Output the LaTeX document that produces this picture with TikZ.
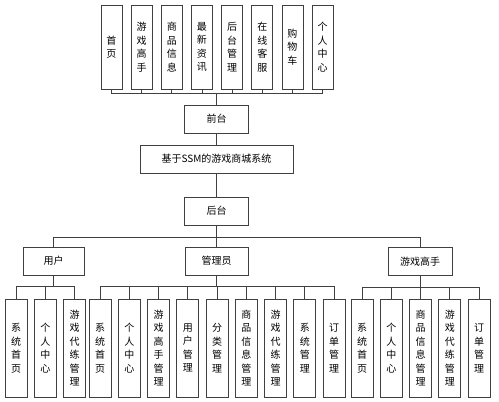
\documentclass[tikz,border=0pt]{standalone}
\usepackage{fontspec}
\newfontfamily\cjk{Noto Sans CJK SC}
\usepackage{tikz}
\usetikzlibrary{positioning}

\tikzset{
  box/.style={draw=black!75, line width=0.8pt, fill=white, inner sep=1pt,
    font=\cjk\fontsize{10}{13.5}\selectfont, align=center},
  topbox/.style={box, minimum width=21pt, minimum height=84pt},
  midbox/.style={box, minimum width=64pt, minimum height=28pt},
  leafbox/.style={box, minimum width=22pt, minimum height=98pt},
  wire/.style={draw=black!75, line width=0.8pt}
}

\begin{document}
\begin{tikzpicture}[x=1pt,y=-1pt]
\useasboundingbox (0,0) rectangle (499,402);

% Moduli del front-end
\foreach \i/\t in {1/{首\\页},2/{游\\戏\\高\\手},3/{商\\品\\信\\息},4/{最\\新\\资\\讯},
                   5/{后\\台\\管\\理},6/{在\\线\\客\\服},7/{购\\物\\车},8/{个\\人\\中\\心}}
    \node[topbox] (t\i) at ({111.5+30.15*(\i-1)},47) {\t};

% Nodi centrali
\node[midbox] (qiantai) at (216.5,119) {前台};
\node[midbox, minimum width=153pt] (sys) at (216.5,159) {基于SSM的游戏商城系统};
\node[midbox] (houtai) at (216.5,211) {后台};

% Ruoli
\node[midbox, minimum width=61pt] (yonghu) at (53.5,261) {用户};
\node[midbox, minimum width=63pt] (admin) at (216.5,261) {管理员};
\node[midbox, minimum width=64pt] (gamer) at (420,261.5) {游戏高手};

% Foglie
\foreach \i/\x/\t in {1/16/{系\\统\\首\\页},2/45.5/{个\\人\\中\\心},3/74.5/{游\\戏\\代\\练\\管\\理}}
    \node[leafbox] (u\i) at (\x,348) {\t};

\foreach \i/\t in {1/{系\\统\\首\\页},2/{个\\人\\中\\心},3/{游\\戏\\高\\手\\管\\理},
                   4/{用\\户\\管\\理},5/{分\\类\\管\\理},6/{商\\品\\信\\息\\管\\理},
                   7/{游\\戏\\代\\练\\管\\理},8/{系\\统\\管\\理},9/{订\\单\\管\\理}}
    \node[leafbox] (a\i) at ({100+29.25*(\i-1)},348) {\t};

\foreach \i/\t in {1/{系\\统\\首\\页},2/{个\\人\\中\\心},3/{商\\品\\信\\息\\管\\理},
                   4/{游\\戏\\代\\练\\管\\理},5/{订\\单\\管\\理}}
    \node[leafbox] (g\i) at ({362+29.25*(\i-1)},348) {\t};

% Collegamenti
\foreach \i in {1,...,8}
    \draw[wire] (qiantai.north) -- ++(0,-11) -| (t\i.south);
\draw[wire] (qiantai) -- (sys);
\draw[wire] (sys) -- (houtai);

\foreach \r in {yonghu,admin,gamer}
    \draw[wire] (houtai.south) -- ++(0,12) -| (\r.north);

\foreach \i in {1,2,3}
    \draw[wire] (yonghu.south) -- ++(0,11) -| (u\i.north);
\foreach \i in {1,...,9}
    \draw[wire] (admin.south) -- ++(0,11) -| (a\i.north);
\foreach \i in {1,...,5}
    \draw[wire] (gamer.south) -- ++(0,11) -| (g\i.north);
\end{tikzpicture}
\end{document}
